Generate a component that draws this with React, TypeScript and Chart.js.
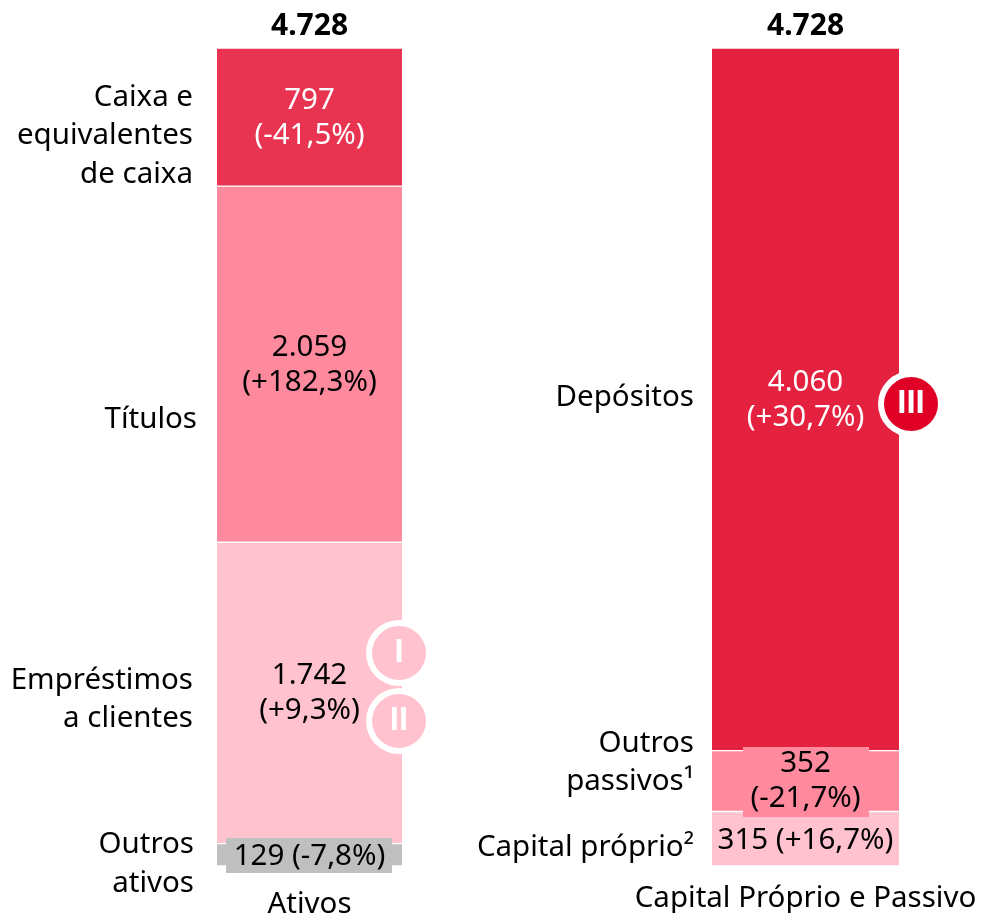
import React, { useEffect, useRef } from "react";
import { Chart, registerables } from "chart.js";

Chart.register(...registerables);

const categories = ["Ativos", "Capital Próprio e Passivo"];
const totals = ["4.728", "4.728"];

// Stacked from the bottom up
const assetNames = ["Outros ativos", "Empréstimos a clientes", "Títulos", "Caixa e equivalentes de caixa"];
const assetValues = [129, 1742, 2059, 797];
const assetValueText = ["129", "1.742", "2.059", "797"];
const assetChangeText = ["(-7,8%)", "(+9,3%)", "(+182,3%)", "(-41,5%)"];

const liabilityNames = ["Capital próprio", "Outros passivos", "Depósitos"];
const liabilityValues = [315, 352, 4060];
const liabilityValueText = ["315", "352", "4.060"];
const liabilityChangeText = ["(+16,7%)", "(-21,7%)", "(+30,7%)"];

const assetSideLabels = [["Outros", "ativos"], ["Empréstimos", "a clientes"], ["Títulos"], ["Caixa e", "equivalentes", "de caixa"]];
const liabilitySideLabels = [["Capital próprio²"], ["Outros", "passivos¹"], ["Depósitos"]];

const AXIS_MAX = 4728;
const FONT = '"Noto Sans", sans-serif';
const BADGE_FONT = '"Liberation Sans", sans-serif';
const SIZE = 29.5;
const TEXT_SHIFT = 2;

const assetColors = ["#BFBFBF", "#FFC2CE", "#FF8A9E", "#E83450"];
const liabilityColors = ["#FFC2CE", "#FF8A9E", "#E4213F"];
const assetTextColors = ["#000", "#000", "#000", "#fff"];
const liabilityTextColors = ["#000", "#000", "#fff"];
const assetOneLine = [true, false, false, false];
const liabilityOneLine = [true, false, false];
const assetSideRight = [194, 193, 197, 193];
const assetSideY = [[843, 882], [679, 717], [418], [96, 134, 173]];
const liabilitySideRight = [694, 694, 694];
const liabilitySideY = [[846], [742, 780], [396]];
const LINE_UP = 19;
const LINE_DOWN = 16;

const labelPatches = [
  { color: "#BFBFBF", x0: 226, x1: 392, y0: 838, y1: 873 },
  { color: "#FF8A9E", x0: 743, x1: 869, y0: 747, y1: 817 },
];

const badges = [
  { text: "I", x: 399, y: 653, color: "#FFC2CE" },
  { text: "II", x: 399, y: 721, color: "#FFC2CE" },
  { text: "III", x: 911, y: 404, color: "#E00025" },
];

const overlay = {
  id: "overlay",
  afterDatasetsDraw(chart: any) {
    const { ctx } = chart;
    const xs = chart.scales.x;
    const text = (s: string, x: number, y: number, color = "#000", align: CanvasTextAlign = "center", weight = "normal", size = SIZE, family = FONT) => {
      ctx.font = `${weight} ${size}px ${family}`;
      ctx.fillStyle = color;
      ctx.textAlign = align;
      ctx.textBaseline = "middle";
      ctx.fillText(s, x, y + TEXT_SHIFT);
    };
    ctx.save();

    labelPatches.forEach((p) => {
      ctx.fillStyle = p.color;
      ctx.fillRect(p.x0, p.y0, p.x1 - p.x0, p.y1 - p.y0);
    });

    const nA = assetValues.length;
    const valueLabels = (
      offset: number,
      count: number,
      vals: string[],
      changes: string[],
      colors: string[],
      oneLine: boolean[],
    ) => {
      for (let i = 0; i < count; i++) {
        const bar = chart.getDatasetMeta(offset + i).data[offset === 0 ? 0 : 1] as any;
        const mid = (bar.y + bar.base) / 2;
        if (oneLine[i]) {
          text(`${vals[i]} ${changes[i]}`, bar.x, mid, colors[i]);
        } else {
          text(vals[i], bar.x, mid - LINE_UP, colors[i]);
          text(changes[i], bar.x, mid + LINE_DOWN, colors[i]);
        }
      }
    };
    valueLabels(0, nA, assetValueText, assetChangeText, assetTextColors, assetOneLine);
    valueLabels(nA, liabilityValues.length, liabilityValueText, liabilityChangeText, liabilityTextColors, liabilityOneLine);

    assetSideLabels.forEach((lines, i) =>
      lines.forEach((l, j) => text(l, assetSideRight[i], assetSideY[i][j], "#000", "right")),
    );
    liabilitySideLabels.forEach((lines, i) =>
      lines.forEach((l, j) => text(l, liabilitySideRight[i], liabilitySideY[i][j], "#000", "right")),
    );

    totals.forEach((t, i) => text(t, xs.getPixelForValue(i), 24, "#000", "center", "bold", 30));
    text(categories[0], xs.getPixelForValue(0), 903);
    text(categories[1], xs.getPixelForValue(1), 897);

    badges.forEach((b) => {
      ctx.beginPath();
      ctx.arc(b.x, b.y, 33, 0, Math.PI * 2);
      ctx.fillStyle = "#fff";
      ctx.fill();
      ctx.beginPath();
      ctx.arc(b.x, b.y, 27, 0, Math.PI * 2);
      ctx.fillStyle = b.color;
      ctx.fill();
      text(b.text, b.x, b.y - 2, "#fff", "center", "bold", 33, BADGE_FONT);
    });
    ctx.restore();
  },
};

export default function App() {
  const ref = useRef<HTMLCanvasElement>(null);
  useEffect(() => {
    const border = { borderColor: "#fff", borderWidth: { top: 1, bottom: 1, left: 0, right: 0 }, borderSkipped: false, clip: false as const };
    const datasets = [
      ...assetValues.map((v, i) => ({
        label: assetNames[i],
        data: [v, null],
        backgroundColor: assetColors[i],
        barThickness: 185,
        ...border,
      })),
      ...liabilityValues.map((v, i) => ({
        label: liabilityNames[i],
        data: [null, v],
        backgroundColor: liabilityColors[i],
        barThickness: 187,
        ...border,
      })),
    ];
    const chart = new Chart(ref.current!, {
      type: "bar",
      data: { labels: categories, datasets: datasets as any },
      options: {
        animation: false,
        responsive: false,
        layout: { padding: { left: 309.5, right: 175.5, top: 48, bottom: 47 } },
        plugins: { legend: { display: false }, tooltip: { enabled: false }, title: { display: false } },
        scales: {
          x: { stacked: true, display: false, offset: false, grid: { display: false } },
          y: { stacked: true, display: false, min: 0, max: AXIS_MAX, grid: { display: false } },
        },
      },
      plugins: [overlay],
    });
    return () => chart.destroy();
  }, []);
  return (
    <div style={{ position: "absolute", left: 0, top: 0, width: 981, height: 913, background: "#fff" }}>
      <canvas ref={ref} width={981} height={913} style={{ display: "block", width: 981, height: 913 }} />
    </div>
  );
}
